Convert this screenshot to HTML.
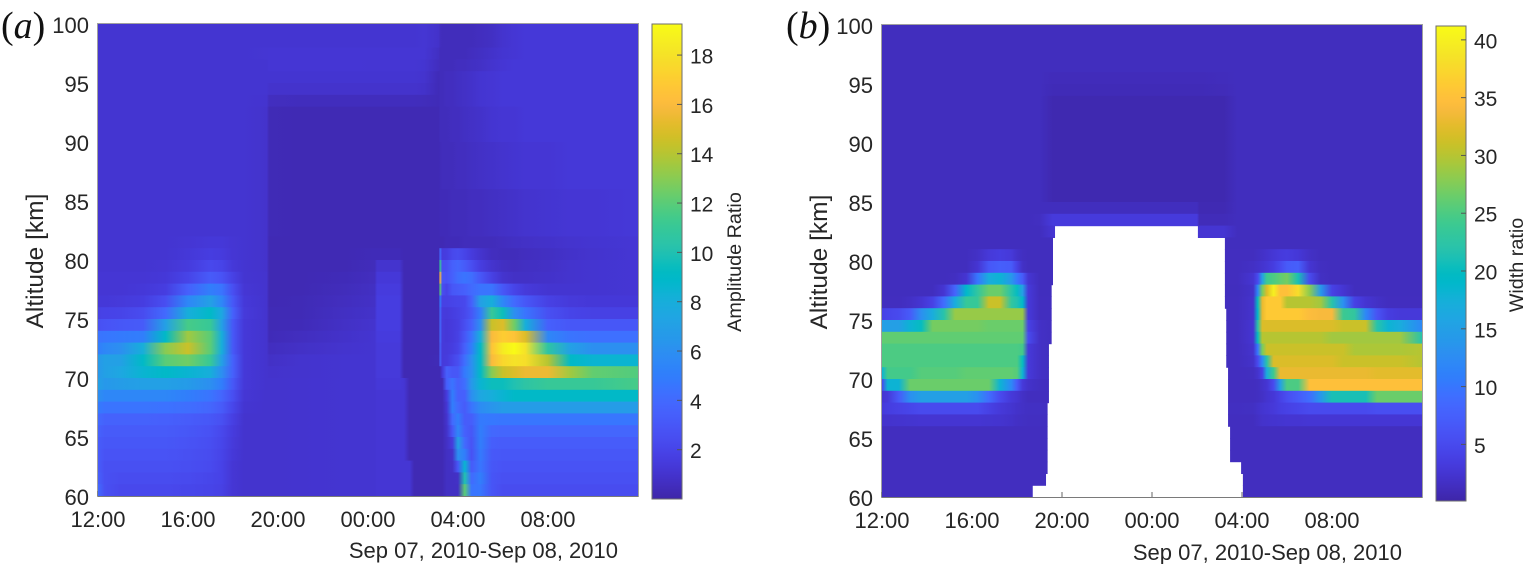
<!DOCTYPE html>
<html lang="en">
<head>
<meta charset="utf-8">
<title>Amplitude and width ratio heatmaps</title>
<style>
html,body{margin:0;padding:0;background:#fff;width:1524px;height:564px;overflow:hidden}
svg{display:block}
text{font-family:"Liberation Sans",sans-serif;fill:#262626}
.panel-tag{font-family:"Liberation Serif",serif;font-size:38px;fill:#111}
.panel-tag tspan.i{font-style:italic}
</style>
</head>
<body>
<svg id="chart" width="1524" height="564" viewBox="0 0 1524 564" xmlns="http://www.w3.org/2000/svg">
<defs id="defs"></defs>
<text class="panel-tag" x="1" y="38">(<tspan class="i">a</tspan>)</text>
<text class="panel-tag" x="786" y="38">(<tspan class="i">b</tspan>)</text>
<text transform="translate(43,261) rotate(-90)" text-anchor="middle" font-size="24.5">Altitude [km]</text>
<text transform="translate(827,262) rotate(-90)" text-anchor="middle" font-size="24.5">Altitude [km]</text>
<text x="618" y="558" text-anchor="end" font-size="22">Sep 07, 2010-Sep 08, 2010</text>
<text x="1402" y="560" text-anchor="end" font-size="22">Sep 07, 2010-Sep 08, 2010</text>
<text transform="translate(741,262) rotate(-90)" text-anchor="middle" font-size="19.8">Amplitude Ratio</text>
<text transform="translate(1523,265) rotate(-90)" text-anchor="middle" font-size="19.8">Width ratio</text>
</svg>
<script>
const parula=[[.2422,.1504,.6603],[.2504,.165,.7076],[.2578,.1818,.7511],[.2647,.1978,.7952],[.2706,.2147,.8364],[.2751,.2342,.871],[.2783,.2559,.8991],[.2803,.2782,.9221],[.2813,.3006,.9414],[.281,.3228,.9579],[.2795,.3447,.9717],[.276,.3667,.9829],[.2699,.3892,.9906],[.2602,.4123,.9952],[.244,.4358,.9988],[.2206,.4603,.9973],[.1963,.4847,.9892],[.1834,.5074,.9798],[.1786,.5289,.9682],[.1764,.5499,.952],[.1687,.5703,.9359],[.154,.5902,.9218],[.146,.6091,.9079],[.138,.6276,.8973],[.1248,.6459,.8883],[.1113,.6635,.8763],[.0952,.6798,.8598],[.0689,.6948,.8394],[.0297,.7082,.8163],[.0036,.7203,.7917],[.0067,.7312,.766],[.0433,.7411,.7394],[.0964,.75,.712],[.1408,.7584,.6842],[.1717,.767,.6554],[.1938,.7758,.6251],[.2161,.7843,.5923],[.247,.7918,.5567],[.2906,.7973,.5188],[.3406,.8008,.4789],[.3909,.8029,.4354],[.4456,.8024,.3909],[.5044,.7993,.348],[.5616,.7942,.3045],[.6174,.7876,.2612],[.672,.7793,.2227],[.7242,.7698,.191],[.7738,.7598,.1646],[.8203,.7498,.1535],[.8634,.7406,.1596],[.9035,.733,.1774],[.9393,.7288,.21],[.9728,.7298,.2394],[.9956,.7434,.2371],[.997,.7659,.2199],[.9952,.7893,.2028],[.9892,.8136,.1885],[.9786,.8386,.1766],[.9676,.8639,.1643],[.961,.889,.1537],[.9597,.9135,.1423],[.9628,.9373,.1265],[.9691,.9606,.1064],[.9769,.9839,.0805]];

const altitudeTicks=[60,65,70,75,80,85,90,95,100];
const timeTickHours=[0,4,8,12,16,20];
const timeTickLabels=["12:00","16:00","20:00","00:00","04:00","08:00"];
const amplitudeColorTicks=[2,4,6,8,10,12,14,16,18];
const widthColorTicks=[5,10,15,20,25,30,35,40];
const amplitudeRange=[0,19.26];
const widthRange=[0.1,41.2];

/* hours after 12:00 for each column of the amplitude matrix */
const amplitudeHours=[0,.3,1,2,3,4,5,5.5,6,6.5,7.5,7.6,9,11,12.3,12.4,13.4,13.6,13.85,14.05,14.5,15.15,15.2,15.3,15.5,15.75,16,16.3,16.6,17,17.5,18,18.5,19,20,21,22,24];
/* amplitude ratio, rows run from 99-100 km down to 60-61 km */
const amplitudeValues=[
[1.1,1.1,1.1,1.1,1.1,1.1,1.1,1.1,1.1,1.1,1.1,1.1,1.1,1.1,1.1,1.1,1.1,1.1,1.1,1.1,1.15,.9,.6,.5,.5,.5,.5,.5,.5,.6,.7,1,1.2,1.3,1.3,1.3,1.3,1.3],
[1.1,1.1,1.1,1.1,1.1,1.1,1.1,1.1,1.1,1.1,1.1,1.1,1.1,1.1,1.1,1.1,1.1,1.1,1.1,1.1,1.15,.9,.6,.5,.5,.5,.5,.5,.5,.6,.7,1,1.2,1.3,1.3,1.3,1.3,1.3],
[1.1,1.1,1.1,1.1,1.1,1.1,1.1,1.1,1.1,1.1,1.15,1.2,1.2,1.2,1.2,1.2,1.2,1.2,1.2,1.2,1.2,.7,.5,.5,.5,.5,.5,.5,.6,.7,.9,1.1,1.2,1.3,1.3,1.3,1.3,1.3],
[1.1,1.1,1.1,1.1,1.1,1.1,1.1,1.1,1.1,1.1,1.1,1.2,1.2,1.2,1.15,1.15,1.15,1.15,1.15,1.15,1.1,.6,.5,.5,.5,.5,.6,.6,.7,.8,1,1.2,1.3,1.3,1.3,1.3,1.3,1.3],
[1.1,1.1,1.1,1.1,1.1,1.1,1.1,1.1,1.1,1.1,1.1,1.1,1.1,1.1,1.1,1.1,1.1,1.1,1.1,1.1,1,.4,.5,.5,.6,.6,.7,.8,.9,1.1,1.2,1.3,1.3,1.3,1.3,1.3,1.3,1.3],
[1.1,1.1,1.1,1.1,1.1,1.1,1.1,1.1,1.1,1.1,1.1,.95,.95,.95,.95,.95,.95,.95,.95,.95,.9,.4,.5,.5,.6,.6,.7,.8,.9,1.1,1.2,1.3,1.3,1.3,1.3,1.3,1.3,1.3],
[1.1,1.1,1.1,1.1,1.1,1.1,1.1,1.1,1.1,1.1,1.05,.6,.55,.55,.55,.55,.55,.55,.55,.55,.5,.4,.5,.5,.6,.6,.7,.8,.9,1.1,1.2,1.3,1.3,1.3,1.3,1.3,1.3,1.3],
[1.1,1.1,1.1,1.1,1.1,1.1,1.1,1.1,1.1,1.1,.95,.35,.3,.3,.3,.3,.3,.3,.3,.3,.3,.3,.5,.5,.5,.6,.6,.7,.8,.9,1.1,1.2,1.2,1.3,1.3,1.3,1.3,1.3],
[1.1,1.1,1.1,1.1,1.1,1.1,1.1,1.1,1.1,1.1,.95,.35,.3,.3,.3,.3,.3,.3,.3,.3,.3,.3,.5,.5,.5,.6,.6,.7,.8,.9,1.1,1.2,1.2,1.3,1.3,1.3,1.3,1.3],
[1.1,1.1,1.1,1.1,1.1,1.1,1.1,1.1,1.1,1.1,.95,.35,.3,.3,.3,.3,.3,.3,.3,.3,.3,.3,.5,.5,.5,.6,.6,.7,.8,.9,1.1,1.2,1.2,1.3,1.3,1.3,1.3,1.3],
[1.1,1.1,1.1,1.1,1.1,1.1,1.1,1.1,1.1,1.1,.95,.35,.3,.3,.3,.3,.3,.3,.3,.3,.3,.3,.4,.5,.5,.5,.6,.6,.7,.8,.9,1,1.1,1.2,1.2,1.3,1.3,1.3],
[1.1,1.1,1.1,1.1,1.1,1.1,1.1,1.1,1.1,1.1,.95,.35,.3,.3,.3,.3,.3,.3,.3,.3,.3,.3,.4,.5,.5,.5,.6,.6,.7,.8,.9,1,1.1,1.2,1.2,1.3,1.3,1.3],
[1.1,1.1,1.1,1.1,1.1,1.1,1.1,1.1,1.1,1.1,.95,.35,.3,.3,.3,.3,.3,.3,.3,.3,.3,.3,.4,.5,.5,.5,.6,.6,.7,.8,.9,1,1.1,1.2,1.2,1.3,1.3,1.3],
[1.1,1.1,1.1,1.1,1.1,1.1,1.1,1.1,1.1,1.1,.95,.35,.3,.3,.3,.3,.3,.3,.3,.3,.3,.3,.4,.5,.5,.5,.6,.6,.7,.8,.9,1,1.1,1.2,1.2,1.3,1.3,1.3],
[1.1,1.1,1.1,1.1,1.1,1.1,1.1,1.1,1.1,1.1,.95,.35,.3,.3,.3,.3,.3,.3,.3,.3,.3,.3,.4,.4,.4,.5,.5,.5,.6,.6,.7,.8,.9,1,1.1,1.2,1.2,1.3],
[1.1,1.1,1.1,1.1,1.1,1.1,1.1,1.1,1.1,1.1,.95,.35,.3,.3,.3,.3,.3,.3,.3,.3,.3,.3,.4,.4,.4,.5,.5,.5,.6,.6,.7,.8,.9,1,1.1,1.2,1.2,1.3],
[1.1,1.1,1.1,1.1,1.1,1.1,1.1,1.1,1.1,1.1,.95,.35,.3,.3,.3,.3,.3,.3,.3,.3,.3,.3,.4,.4,.4,.5,.5,.5,.6,.6,.7,.8,.9,1,1.1,1.2,1.2,1.3],
[1.1,1.1,1.1,1.1,1.1,1.1,1.1,1.1,1.1,1.1,.95,.35,.3,.3,.3,.3,.3,.3,.3,.3,.3,.3,.4,.4,.4,.5,.5,.5,.6,.6,.7,.8,.9,1,1.1,1.2,1.2,1.3],
[1.1,1.1,1.1,1.1,1.1,1.2,1.3,1.3,1.15,1.1,.95,.3,.3,.3,.3,.3,.3,.3,.3,.3,.3,.3,.3,.3,.4,.4,.4,.5,.5,.5,.5,.6,.7,.8,.9,1,1.1,1.2],
[1.1,1.1,1.1,1.1,1.1,1.3,1.6,1.5,1.2,1.1,.95,.3,.3,.3,.4,.4,.4,.3,.3,.3,.3,.3,4,1.5,1.6,2.2,2.4,2,1.5,1,.6,.5,.5,.6,.7,.9,1,1.2],
[1.1,1.1,1.1,1.1,1.2,1.5,2.2,2,1.3,1.1,.95,.3,.3,.3,.5,1,1,.3,.3,.3,.3,.3,11,2.5,2.6,3.5,3.8,3.2,2.5,1.6,1,.7,.6,.7,.8,1,1.1,1.2],
[1.2,1.2,1.2,1.2,1.3,2,3.2,2.8,1.8,1.1,1,.3,.3,.4,.6,1.3,1.3,.3,.3,.3,.3,.3,16,3,2.8,3.5,4.2,4.5,4.2,3,1.8,1,.8,.8,.9,1,1.1,1.2],
[1.2,1.2,1.2,1.3,1.6,3.5,5,4.5,2.5,1.2,1,.3,.3,.5,.7,1.5,1.5,.3,.3,.3,.3,.3,12,2.5,2,3,3.2,3.5,4,4.5,4.5,3,2,1.4,1.1,1.1,1.1,1.2],
[1.3,1.3,1.4,1.6,2.5,5.5,7,5.5,3,1.3,1,.3,.35,.6,.8,1.6,1.6,.3,.3,.3,.3,.3,5,1.8,1.8,2,2.1,2.2,3.5,7,8,5.5,4,3,1.8,1.4,1.3,1.3],
[1.8,1.9,2,2.4,4,8,9,7.5,3.5,1.4,1,.35,.35,.7,.9,1.6,1.6,.3,.3,.3,.3,.3,4,1.5,1.4,1.6,1.8,2.2,3,5,11,9.5,6,4.5,2.6,2,1.8,1.8],
[2.6,2.8,3,3.2,7,11.5,11,7,3,1.3,1,.35,.4,.8,1,1.6,1.6,.3,.3,.3,.3,.3,4,1.4,1.3,1.5,1.7,2.5,3.5,6,14.5,15,12.5,8,3.5,3,3,3],
[4.5,4.6,4.8,5,9,13.5,12,8,3,1.3,1,.4,.6,.9,1.1,1.5,1.5,.3,.3,.3,.3,.3,4,1.4,1.3,1.5,1.8,3,4.5,8,16,17,16.5,15,5.5,4.5,4.3,4.3],
[5,5.5,6,8,13,14.5,12,8,3,1.3,1,.6,.8,1,1.1,1.4,1.4,.3,.3,.3,.3,.3,3.5,1.4,1.4,1.6,2,3.5,5,9,16.5,18.5,19.2,18,10.5,7,6,6],
[6.5,7,7,9,12,12.5,11,7,3.5,1.3,1,.8,1,1.1,1.1,1.4,1.4,.3,.3,.3,.3,.35,3.5,1.4,1.5,2,2.5,4.2,6,9,16,17.5,18,17.8,14,9,8.5,8.5],
[6.5,7,7.5,8.5,9,8.5,8,6,3.5,1.3,1,.95,1,1.1,1.1,1.4,1.4,.3,.3,.3,.3,.3,.3,1.3,3.5,3,3,4.8,6,9,13,14.5,15,15.5,15.5,13.5,12.2,11.8],
[7,6.5,6.8,7,7,6.7,6,5,3,1.3,1,1,1.05,1.1,1.1,1.3,1.3,1.2,.3,.3,.3,.3,.3,.3,3.5,4.5,3.5,4.2,6.5,8.5,9.5,9.5,10,10.5,11,11,11,11.5],
[6,5.5,5.5,5.5,5.5,5,4.5,3.8,2.5,1.2,1,1,1.05,1.1,1.1,1.2,1.2,1.2,.3,.3,.3,.3,.3,.3,1.5,5,3.5,3.5,6,7.5,8,8.5,9,9,9,9,9,9],
[4.8,4.5,4.5,4.5,4.4,4.2,3.8,3.2,2.1,1.1,1,1,1.05,1.1,1.1,1.2,1.2,1.2,.3,.3,.3,.3,.3,.3,1.2,5,4,3.2,4.5,5.8,6.3,6.8,6.8,6.8,6.8,6.8,6.8,6.8],
[4,3.6,3.6,3.6,3.5,3.3,3,2.6,1.7,1,1,1,1.05,1.1,1.1,1.2,1.2,1.2,.3,.3,.3,.3,.3,.3,1,4,5,3.3,3.4,4.8,4.7,4.6,4.6,4.6,4.6,4.6,4.6,4.6],
[3.6,3.2,3.2,3.2,3.2,3,2.7,2.2,1.5,1,1,1,1.05,1.1,1.1,1.2,1.2,1.2,.3,.3,.3,.3,.3,.3,.9,3,5.5,3.5,3,5,3.9,3.8,3.8,3.8,3.8,3.8,3.8,3.8],
[3.3,3,3,3,3,2.8,2.5,2.1,1.4,1,1,1,1.05,1.1,1.1,1.2,1.2,1.2,.3,.3,.3,.3,.3,.3,.8,1.5,7,4,2.8,5,3.4,3.3,3.3,3.3,3.3,3.3,3.3,3.3],
[3.3,2.8,2.8,2.8,2.8,2.6,2.4,2,1.3,1,1,1,1.05,1.1,1.1,1.2,1.2,1.2,.3,.3,.3,.3,.3,.3,.7,.9,6,5,2.7,4.8,3.1,3,3,3,3,3,3,3],
[3.3,2.6,2.6,2.6,2.6,2.5,2.3,1.9,1.2,1,1,1,1.05,1.1,1.1,1.2,1.2,1.2,1.2,.3,.3,.3,.3,.3,.7,.8,3,8.5,3.2,4.6,3,2.8,2.8,2.8,2.8,2.8,2.8,2.8],
[3.5,2.6,2.4,2.4,2.4,2.3,2.1,1.9,1.2,1,1,1,1.05,1.1,1.1,1.2,1.2,1.2,1.2,.3,.3,.3,.3,.3,.7,.7,.8,10,4,5,2.9,2.6,2.6,2.6,2.6,2.6,2.6,2.6],
[4,2.6,2.2,2.2,2.2,2.1,2,1.8,1.2,1,1,1,1.05,1.1,1.1,1.2,1.2,1.2,1.2,.3,.3,.3,.3,.3,.7,.7,.7,12,4.5,4.6,2.9,2.4,2.4,2.4,2.4,2.4,2.4,2.4]
];

/* hours after 12:00 for each column of the width matrix */
const widthHours=[0,.25,.75,1.25,1.75,2.25,2.75,3.25,3.75,4.25,4.75,5.25,5.75,6,6.25,6.5,7,7.6,14,14.1,15.2,15.8,16.5,16.7,16.9,17.1,17.4,17.7,18,18.5,19,19.5,20,20.5,21,21.5,22,22.5,23,24];
/* width ratio, rows run from 99-100 km down to 60-61 km */
const widthValues=[
[1.3,1.3,1.3,1.3,1.3,1.3,1.3,1.3,1.3,1.3,1.3,1.3,1.3,1.3,1.3,1.3,1.3,1.3,1.3,1.3,1.3,1.3,1.3,1.3,1.3,1.3,1.3,1.3,1.3,1.3,1.3,1.3,1.3,1.3,1.3,1.3,1.3,1.3,1.3,1.3],
[1.3,1.3,1.3,1.3,1.3,1.3,1.3,1.3,1.3,1.3,1.3,1.3,1.3,1.3,1.3,1.3,1.3,1.3,1.3,1.3,1.3,1.3,1.3,1.3,1.3,1.3,1.3,1.3,1.3,1.3,1.3,1.3,1.3,1.3,1.3,1.3,1.3,1.3,1.3,1.3],
[1.3,1.3,1.3,1.3,1.3,1.3,1.3,1.3,1.3,1.3,1.3,1.3,1.3,1.3,1.3,1.3,1.3,1.3,1.3,1.3,1.3,1.3,1.3,1.3,1.3,1.3,1.3,1.3,1.3,1.3,1.3,1.3,1.3,1.3,1.3,1.3,1.3,1.3,1.3,1.3],
[1.3,1.3,1.3,1.3,1.3,1.3,1.3,1.3,1.3,1.3,1.3,1.3,1.3,1.3,1.3,1.3,1.3,1.3,1.3,1.3,1.3,1.3,1.3,1.3,1.3,1.3,1.3,1.3,1.3,1.3,1.3,1.3,1.3,1.3,1.3,1.3,1.3,1.3,1.3,1.3],
[1.3,1.3,1.3,1.3,1.3,1.3,1.3,1.3,1.3,1.3,1.3,1.3,1.3,1.3,1.3,1.3,1.3,1.1,1.1,1.1,1.2,1.3,1.3,1.3,1.3,1.3,1.3,1.3,1.3,1.3,1.3,1.3,1.3,1.3,1.3,1.3,1.3,1.3,1.3,1.3],
[1.3,1.3,1.3,1.3,1.3,1.3,1.3,1.3,1.3,1.3,1.3,1.3,1.3,1.3,1.3,1.3,1.3,.9,.9,.9,1,1.3,1.3,1.3,1.3,1.3,1.3,1.3,1.3,1.3,1.3,1.3,1.3,1.3,1.3,1.3,1.3,1.3,1.3,1.3],
[1.3,1.3,1.3,1.3,1.3,1.3,1.3,1.3,1.3,1.3,1.3,1.3,1.3,1.3,1.3,1.3,1.3,.5,.5,.5,.5,1.3,1.3,1.3,1.3,1.3,1.3,1.3,1.3,1.3,1.3,1.3,1.3,1.3,1.3,1.3,1.3,1.3,1.3,1.3],
[1.3,1.3,1.3,1.3,1.3,1.3,1.3,1.3,1.3,1.3,1.3,1.3,1.3,1.3,1.3,1.3,1.3,.5,.5,.5,.5,1.3,1.3,1.3,1.3,1.3,1.3,1.3,1.3,1.3,1.3,1.3,1.3,1.3,1.3,1.3,1.3,1.3,1.3,1.3],
[1.3,1.3,1.3,1.3,1.3,1.3,1.3,1.3,1.3,1.3,1.3,1.3,1.3,1.3,1.3,1.3,1.3,.5,.5,.5,.5,1.3,1.3,1.3,1.3,1.3,1.3,1.3,1.3,1.3,1.3,1.3,1.3,1.3,1.3,1.3,1.3,1.3,1.3,1.3],
[1.3,1.3,1.3,1.3,1.3,1.3,1.3,1.3,1.3,1.3,1.3,1.3,1.3,1.3,1.3,1.3,1.3,.5,.5,.5,.5,1.3,1.3,1.3,1.3,1.3,1.3,1.3,1.3,1.3,1.3,1.3,1.3,1.3,1.3,1.3,1.3,1.3,1.3,1.3],
[1.3,1.3,1.3,1.3,1.3,1.3,1.3,1.3,1.3,1.3,1.3,1.3,1.3,1.3,1.3,1.3,1.3,.5,.5,.5,.5,1.3,1.3,1.3,1.3,1.3,1.3,1.3,1.3,1.3,1.3,1.3,1.3,1.3,1.3,1.3,1.3,1.3,1.3,1.3],
[1.3,1.3,1.3,1.3,1.3,1.3,1.3,1.3,1.3,1.3,1.3,1.3,1.3,1.3,1.3,1.3,1.3,.5,.5,.5,.5,1.3,1.3,1.3,1.3,1.3,1.3,1.3,1.3,1.3,1.3,1.3,1.3,1.3,1.3,1.3,1.3,1.3,1.3,1.3],
[1.3,1.3,1.3,1.3,1.3,1.3,1.3,1.3,1.3,1.3,1.3,1.3,1.3,1.3,1.3,1.3,1.3,.5,.5,.5,.5,1.3,1.3,1.3,1.3,1.3,1.3,1.3,1.3,1.3,1.3,1.3,1.3,1.3,1.3,1.3,1.3,1.3,1.3,1.3],
[1.3,1.3,1.3,1.3,1.3,1.3,1.3,1.3,1.3,1.3,1.3,1.3,1.3,1.3,1.3,1.3,1.3,.5,.5,.5,.5,1.3,1.3,1.3,1.3,1.3,1.3,1.3,1.3,1.3,1.3,1.3,1.3,1.3,1.3,1.3,1.3,1.3,1.3,1.3],
[1.3,1.3,1.3,1.3,1.3,1.3,1.3,1.3,1.3,1.3,1.3,1.3,1.3,1.3,1.3,1.3,1.3,.5,.5,.5,.5,1.3,1.3,1.3,1.3,1.3,1.3,1.3,1.3,1.3,1.3,1.3,1.3,1.3,1.3,1.3,1.3,1.3,1.3,1.3],
[1.3,1.3,1.3,1.3,1.3,1.3,1.3,1.3,1.3,1.3,1.3,1.3,1.3,1.3,1.3,1.3,1.3,1.3,1.3,.7,.7,1.3,1.3,1.3,1.3,1.3,1.3,1.3,1.3,1.3,1.3,1.3,1.3,1.3,1.3,1.3,1.3,1.3,1.3,1.3],
[1.3,1.3,1.3,1.3,1.3,1.3,1.3,1.3,1.3,1.3,1.3,1.3,1.3,1.3,1.3,1.3,1.5,3.2,3.2,1,1,1.3,1.3,1.3,1.3,1.3,1.3,1.3,1.3,1.3,1.3,1.3,1.3,1.3,1.3,1.3,1.3,1.3,1.3,1.3],
[1.3,1.3,1.3,1.3,1.3,1.3,1.3,1.3,1.3,1.3,1.3,1.3,1.3,1.3,1.3,1.3,1.3,2.5,2.5,2.5,2.5,1.3,1.3,1.3,1.3,1.3,1.3,1.3,1.3,1.3,1.3,1.3,1.3,1.3,1.3,1.3,1.3,1.3,1.3,1.3],
[1.3,1.3,1.3,1.3,1.3,1.3,1.3,1.3,1.3,1.3,1.3,1.3,1.3,1.3,1.3,1.3,1.3,1.3,1.3,1.3,1.3,1.3,1.3,1.3,1.3,1.3,1.3,1.3,1.3,1.3,1.3,1.3,1.3,1.3,1.3,1.3,1.3,1.3,1.3,1.3],
[1.3,1.3,1.3,1.3,1.3,1.3,1.3,1.3,1.3,1.8,3,3.5,3,2,1.5,1.3,1.3,1.3,1.3,1.3,1.4,1.4,1.4,1.6,1.9,2.2,2.7,3.2,3.4,2.8,1.8,1.3,1.3,1.3,1.3,1.3,1.3,1.3,1.3,1.3],
[1.3,1.3,1.3,1.3,1.3,1.3,1.3,1.3,1.3,2.5,6.5,7.5,7,4,1.8,1.3,1.3,1.3,1.3,1.3,1.4,1.4,1.7,2,2.3,2.7,3.5,5,7,7.5,2.5,1.5,1.3,1.3,1.3,1.3,1.3,1.3,1.3,1.3],
[1.3,1.3,1.3,1.3,1.3,1.3,1.3,1.5,2.5,10,17,18,14,10,7,2.5,1.3,1.3,1.3,1.3,1.4,1.4,2.5,5,15,24,25,26,27,21,5,1.6,1.3,1.3,1.3,1.3,1.3,1.3,1.3,1.3],
[1.3,1.3,1.3,1.3,1.3,1.3,2.5,8,19,23,26.5,26.5,22,20,15,3,1.3,1.3,1.3,1.3,1.3,1.3,2,12,27,32,40,35,35,38,28,14,4,2.5,1.3,1.3,1.3,1.3,1.3,1.3],
[1.35,1.35,1.35,1.7,2.5,4,9,17,23.5,23.5,31,31,23,21.5,19,3,1.35,1.35,1.35,1.35,1.35,1.35,2.2,20,33,36,36,36,30,30,30,29,22,13,4,2.5,1.8,1.35,1.35,1.35],
[4,4.5,5,7,13,17,22,28.5,28.5,28.5,28.5,28.5,28.5,28.5,28.5,3,1.35,1.35,1.35,1.35,1.35,1.35,2.2,19,33,36,36,36,36,36,34.5,34,34,24,23,12,6,3.5,3,3],
[15,15,15,18,20,27,27,27,27,27,26.5,26.5,26.5,26.5,26.5,4,1.8,1.35,1.35,1.35,1.35,1.35,2.5,22,32,32,32,32,32,32,32,32,32,31,31,31,22,18,17,12],
[26,26,26,26,26,26,26,26,26,26,26,26,26,26,26,5,1.8,1.35,1.35,1.35,1.35,1.35,2.5,20,30,30,30,30,30,30,30,30,29,29,29,29,29,29,29,22],
[25,25,25,25,25,25,25,25,25,25,25,25,25,25,24.5,3,1.8,1.35,1.35,1.35,1.35,1.35,2.2,10,27,31,31,31,31,31,31,31,31,31,29.5,29.5,29.5,29.5,29.5,30],
[25,25,25,25,25,25,25,25,25,25,25,25,25,25,20,3,1.8,1.35,1.35,1.35,1.35,1.35,2,5,12,22,32,32,32,32,32,32,32,31,31,31,31,31,31,30],
[18,24.5,24.5,24.5,25.5,25.5,25.5,25.5,26,26,26,26,26,25.5,18,3,1.8,1.35,1.35,1.35,1.35,1.35,1.5,2.2,4,17,24,33,33,33,33,33,33,33,33,33,32.5,32.5,32.5,32.5],
[5,18,18,26.5,26.5,26.5,26.5,26.5,26.5,26.5,26.5,18,12,7,3,2,1.5,1.35,1.35,1.35,1.35,1.35,1.35,1.5,2,2.5,5,15,25,25,35,35,35,35,35,35,35,35,35,35],
[2.5,3,7,13,15,15,15,15,15,13,9,5,3,2.5,1.8,1.35,1.35,1.35,1.35,1.35,1.35,1.35,1.35,1.5,1.8,2.3,2.8,4,5.5,7,9,14,21,21,21,21,26.5,26.5,26.5,26.5],
[3,3.5,4,4.5,5,5,5,5,5,5,4,3,2.4,2,1.8,1.6,1.6,1.5,1.5,1.5,1.5,1.5,1.6,2,2.4,2.6,3,3.6,4,4.5,5,5,5,5,5,5,5.5,5.5,5.5,5.5],
[2.2,2.2,2.3,2.4,2.5,2.5,2.5,2.5,2.5,2.5,2.4,2.3,2,1.7,1.6,1.5,1.5,1.4,1.4,1.4,1.4,1.4,1.4,1.7,2.1,2.2,2.3,2.4,2.5,2.5,2.6,2.6,2.6,2.6,2.6,2.6,2.6,2.6,2.6,2.6],
[1.35,1.35,1.35,1.35,1.35,1.35,1.35,1.35,1.35,1.35,1.35,1.35,1.35,1.35,1.35,1.35,1.35,1.35,1.35,1.35,1.35,1.35,1.35,1.35,1.35,1.35,1.35,1.35,1.35,1.35,1.35,1.35,1.35,1.35,1.35,1.35,1.35,1.35,1.35,1.35],
[1.35,1.35,1.35,1.35,1.35,1.35,1.35,1.35,1.35,1.35,1.35,1.35,1.35,1.35,1.35,1.35,1.35,1.35,1.35,1.35,1.35,1.35,1.35,1.35,1.35,1.35,1.35,1.35,1.35,1.35,1.35,1.35,1.35,1.35,1.35,1.35,1.35,1.35,1.35,1.35],
[1.35,1.35,1.35,1.35,1.35,1.35,1.35,1.35,1.35,1.35,1.35,1.35,1.35,1.35,1.35,1.35,1.35,1.35,1.35,1.35,1.35,1.35,1.35,1.35,1.35,1.35,1.35,1.35,1.35,1.35,1.35,1.35,1.35,1.35,1.35,1.35,1.35,1.35,1.35,1.35],
[1.35,1.35,1.35,1.35,1.35,1.35,1.35,1.35,1.35,1.35,1.35,1.35,1.35,1.35,1.35,1.35,1.35,1.35,1.35,1.35,1.35,1.35,1.35,1.35,1.35,1.35,1.35,1.35,1.35,1.35,1.35,1.35,1.35,1.35,1.35,1.35,1.35,1.35,1.35,1.35],
[1.35,1.35,1.35,1.35,1.35,1.35,1.35,1.35,1.35,1.35,1.35,1.35,1.35,1.35,1.35,1.35,1.35,1.35,1.35,1.35,1.35,1.35,1.35,1.35,1.35,1.35,1.35,1.35,1.35,1.35,1.35,1.35,1.35,1.35,1.35,1.35,1.35,1.35,1.35,1.35],
[1.35,1.35,1.35,1.35,1.35,1.35,1.35,1.35,1.35,1.35,1.35,1.35,1.35,1.35,1.35,1.35,1.35,1.35,1.35,1.35,1.35,1.35,1.35,1.35,1.35,1.35,1.35,1.35,1.35,1.35,1.35,1.35,1.35,1.35,1.35,1.35,1.35,1.35,1.35,1.35]
];

/* no-data interval (hours after 12:00) in the width panel, altitude bins 82-83 km down to 60-61 km */
const gapTopKm=83;
const gapStartHours=[7.69,7.6,7.6,7.6,7.6,7.54,7.54,7.54,7.54,7.54,7.42,7.42,7.42,7.42,7.42,7.36,7.36,7.36,7.36,7.36,7.36,7.29,6.7];
const gapEndHours=[14.04,15.24,15.24,15.24,15.24,15.24,15.24,15.3,15.3,15.3,15.3,15.3,15.38,15.38,15.38,15.38,15.38,15.47,15.47,15.47,15.96,16.04,16.04];

const NS='http://www.w3.org/2000/svg';
const chart=document.getElementById('chart');
const defs=document.getElementById('defs');

function make(tag,attrs,parent){
  const el=document.createElementNS(NS,tag);
  for(const k in attrs)el.setAttribute(k,attrs[k]);
  (parent||chart).appendChild(el);
  return el;
}
function colormap(f){
  const p=Math.max(0,Math.min(1,f))*(parula.length-1);
  const i=Math.min(parula.length-2,Math.floor(p)),t=p-i;
  const c=[0,1,2].map(n=>Math.round(255*(parula[i][n]*(1-t)+parula[i+1][n]*t)));
  return 'rgb('+c.join(',')+')';
}

function drawPanel(cfg){
  const xOf=h=>cfg.left+(h/24)*(cfg.right-cfg.left);
  const yOf=km=>cfg.bottom-((km-60)/40)*(cfg.bottom-cfg.top);
  const colorOf=v=>colormap((v-cfg.range[0])/(cfg.range[1]-cfg.range[0]));
  const yBar=v=>cfg.barBottom-((v-cfg.range[0])/(cfg.range[1]-cfg.range[0]))*(cfg.barBottom-cfg.barTop);

  /* axis frame and ticks sit below the heatmap */
  const frame=make('rect',{x:cfg.left-.5,y:cfg.top-.5,width:cfg.right-cfg.left+1,height:cfg.bottom-cfg.top+1,fill:'none',stroke:'#a0a0a0','stroke-width':1});
  
  
  const baseline=make('line',{x1:cfg.left,x2:cfg.right,y1:cfg.bottom+.5,y2:cfg.bottom+.5,stroke:'#7a7a7a','stroke-width':1});
  
  
  timeTickHours.forEach((h,i)=>{
    const tick=make('line',{x1:xOf(h),x2:xOf(h),y1:cfg.bottom,y2:cfg.bottom-5,stroke:'#666','stroke-width':1});
    
    
    const label=make('text',{x:xOf(h),y:cfg.bottom+cfg.xLabelDrop,'text-anchor':'middle','font-size':22});
    label.textContent=timeTickLabels[i];
    
    
  });
  altitudeTicks.forEach(km=>{
    const label=make('text',{x:cfg.left-9,y:yOf(km)+9,'text-anchor':'end','font-size':22});
    label.textContent=km;
    
    
  });

  /* heatmap: one gradient per altitude bin, stops taken from the value matrix */
  cfg.values.forEach((row,r)=>{
    const gid=cfg.id+'-g'+r;
    const grad=make('linearGradient',{id:gid,gradientUnits:'userSpaceOnUse',x1:xOf(0),x2:xOf(24),y1:0,y2:0},defs);
    row.forEach((v,c)=>{
      make('stop',{offset:cfg.hours[c]/24,'stop-color':colorOf(v)},grad);
    });
    const kmTop=100-r;
    const yTop=yOf(kmTop),yBot=yOf(kmTop-1)+(r<cfg.values.length-1?0.6:0);
    const g=cfg.gapStart?cfg.gapTop-kmTop:-1;
    const spans=(g>=0&&g<cfg.gapStart.length)?[[0,cfg.gapStart[g]],[cfg.gapEnd[g],24]]:[[0,24]];
    spans.forEach(s=>{
      const cell=make('rect',{x:xOf(s[0]),y:yTop,width:xOf(s[1])-xOf(s[0]),height:yBot-yTop,fill:'url(#'+gid+')'});
      
      
    });
  });

  /* colorbar */
  const barGid=cfg.id+'-bar';
  const barGrad=make('linearGradient',{id:barGid,x1:0,x2:0,y1:1,y2:0},defs);
  parula.forEach((c,i)=>{
    make('stop',{offset:i/(parula.length-1),'stop-color':colormap(i/(parula.length-1))},barGrad);
  });
  const bar=make('rect',{x:cfg.barLeft,y:cfg.barTop,width:cfg.barRight-cfg.barLeft,height:cfg.barBottom-cfg.barTop,fill:'url(#'+barGid+')',stroke:'#6e6e6e','stroke-width':1});
  
  
  cfg.barTicks.forEach(v=>{
    const tick=make('line',{x1:cfg.barRight-5,x2:cfg.barRight,y1:yBar(v),y2:yBar(v),stroke:'#555','stroke-width':1});
    
    
    const label=make('text',{x:cfg.barRight+8,y:yBar(v)+8.5,'font-size':21});
    label.textContent=v;
    
    
  });
}

drawPanel({id:'amplitude',left:98,right:638,top:24,bottom:496,hours:amplitudeHours,values:amplitudeValues,range:amplitudeRange,
  barLeft:652,barRight:682,barTop:24,barBottom:499,barTicks:amplitudeColorTicks,xLabelDrop:31});
drawPanel({id:'width',left:882,right:1422,top:25,bottom:497,hours:widthHours,values:widthValues,range:widthRange,
  gapStart:gapStartHours,gapEnd:gapEndHours,gapTop:gapTopKm,
  barLeft:1436,barRight:1466,barTop:26,barBottom:501,barTicks:widthColorTicks,xLabelDrop:31});
</script>
</body>
</html>
